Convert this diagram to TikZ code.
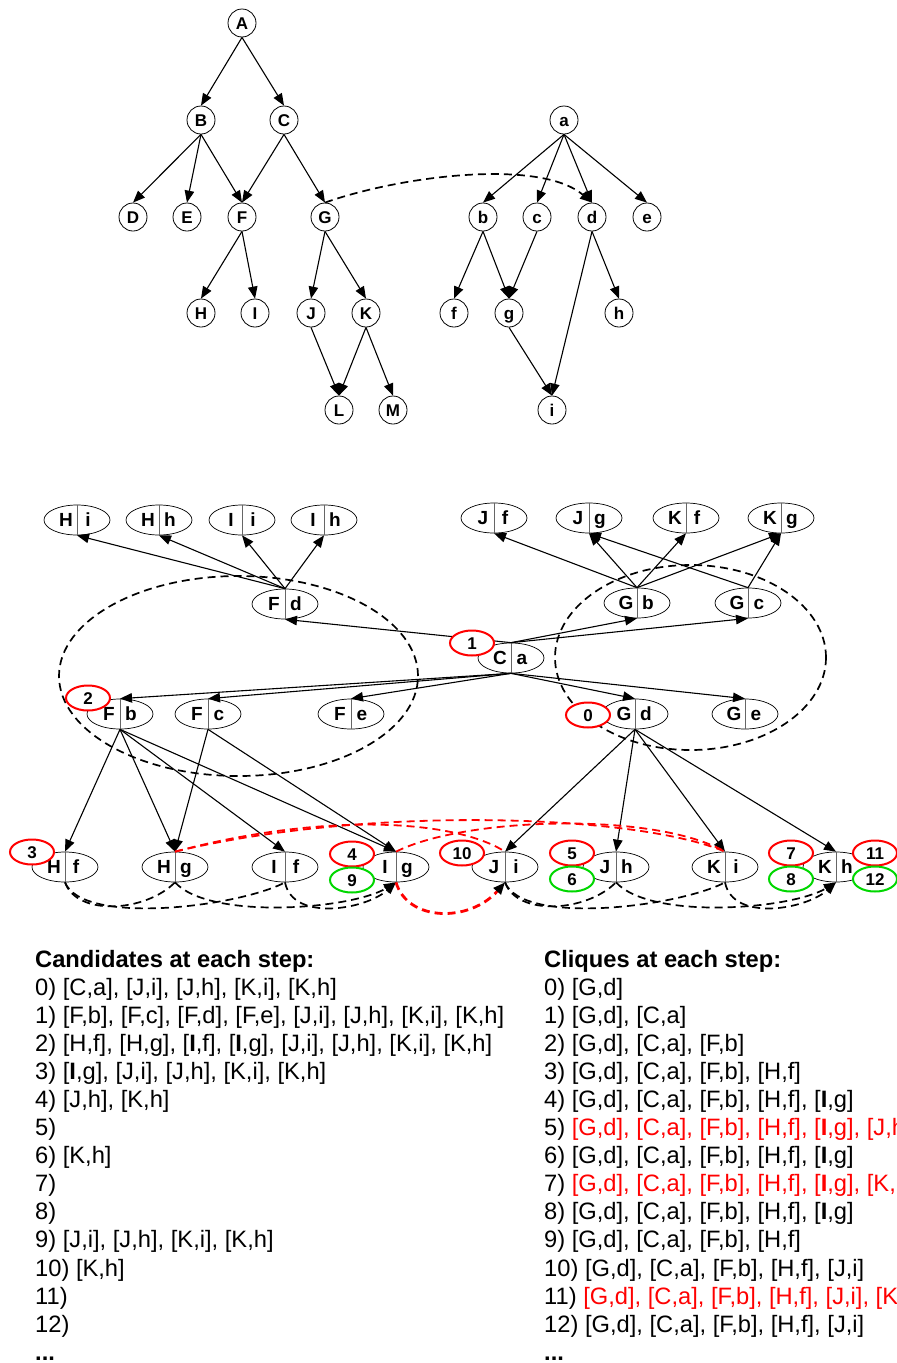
\documentclass[tikz,border=0pt]{standalone}
\usepackage{fontspec}
\setmainfont{Liberation Sans}
\usetikzlibrary{arrows.meta,shapes.geometric,calc}

% a candidate pair: split ellipse with one letter on each side
\newcommand\pairnode[5]{%
  \node[pairell] (#1) at (#2,#3) {};
  \draw[divider] (#1.north) -- (#1.south);
  \node[pairtxt] (#1-l) at ($(#1.center)+(-11,0)$) {#4};
  \node[pairtxt] (#1-r) at ($(#1.center)+(11,0)$) {#5};
}
\newcommand\bI{\textbf{I}}

\begin{document}
\begin{tikzpicture}[x=1pt,y=-1pt,
  tip/.style={-{Triangle[length=12pt,width=9.5pt]}},
  vtx/.style={circle,draw,line width=0.8pt,minimum size=28pt,inner sep=0pt,
    font=\fontsize{17}{17}\selectfont\bfseries,text height=12pt,text depth=0pt},
  link/.style={line width=1.1pt,tip},
  pairell/.style={ellipse,draw,line width=0.7pt,fill=white,minimum width=66pt,
    minimum height=30pt,inner sep=0pt},
  pairtxt/.style={font=\fontsize{19}{19}\selectfont\bfseries,inner sep=0pt,
    text height=13.5pt,text depth=0pt},
  divider/.style={line width=0.7pt,draw=black!60},
  stepred/.style={ellipse,draw=red,line width=2pt,fill=white,minimum width=44pt,
    minimum height=25pt,inner sep=0pt,font=\fontsize{17}{17}\selectfont\bfseries,
    text height=12pt,text depth=0pt},
  stepgreen/.style={stepred,draw={rgb,255:red,0;green,215;blue,0}},
  groupline/.style={line width=1.7pt,dash pattern=on 8pt off 5pt},
  conflict/.style={draw=red,line width=1.8pt,dash pattern=on 8pt off 5pt},
  txt/.style={anchor=base west,inner sep=0pt,font=\fontsize{23.7}{23.7}\selectfont}
]
\clip (0,0) rectangle (897,1363);
\useasboundingbox (0,0) rectangle (897,1363);

% ---------------- the two trees ----------------
\foreach \n/\x/\y in {A/242/23, B/201/120, C/284/120, D/133/217, E/187/217,
  F/242/217, G/325/217, H/201/313, I/255/313, J/311/313, K/366/313,
  L/339/410, M/393/410, a/564/120, b/483/217, c/537/217, d/592/217,
  e/647/217, f/454/313, g/509/313, h/619/313, i/552/410}
  \node[vtx] (\n) at (\x,\y) {\n};

\foreach \s/\t in {A/B, A/C, B/D, B/E, B/F, C/F, C/G, F/H, F/I, G/J, G/K,
  J/L, K/L, K/M, a/b, a/c, a/d, a/e, b/f, b/g, c/g, d/h, d/i, g/i}
  \draw[link] (\s.south) -- (\t.north);

\draw[groupline,tip] (G.north) .. controls (400,176) and (540,158) .. (d.north);

% ---------------- pair graph ----------------
\draw[groupline] (238.5,676) ellipse [x radius=179.5pt, y radius=100pt];
\draw[groupline] (690.5,657.5) ellipse [x radius=135.5pt, y radius=92.5pt];

\pairnode{Hi}{77}{520}{H}{i}
\pairnode{Hh}{159}{520}{H}{h}
\pairnode{Ii}{242}{520}{I}{i}
\pairnode{Ih}{324}{520}{I}{h}
\pairnode{Jf}{494}{518}{J}{f}
\pairnode{Jg}{589}{518}{J}{g}
\pairnode{Kf}{686}{518}{K}{f}
\pairnode{Kg}{781}{518}{K}{g}
\pairnode{Fd}{285}{604}{F}{d}
\pairnode{Gb}{637}{603}{G}{b}
\pairnode{Gc}{748}{603}{G}{c}
\pairnode{Ca}{511}{658}{C}{a}
\pairnode{Fb}{120}{714}{F}{b}
\pairnode{Fc}{208}{714}{F}{c}
\pairnode{Fe}{351}{714}{F}{e}
\pairnode{Gd}{635}{714}{G}{d}
\pairnode{Ge}{745}{714}{G}{e}
\pairnode{Hf}{65}{867}{H}{f}
\pairnode{Hg}{175}{867}{H}{g}
\pairnode{If}{285}{867}{I}{f}
\pairnode{Ig}{396}{867}{I}{g}
\pairnode{Ji}{505}{867}{J}{i}
\pairnode{Jh}{616}{867}{J}{h}
\pairnode{Ki}{725}{867}{K}{i}
\pairnode{Kh}{836}{867}{K}{h}

% upward links
\foreach \s/\t in {Fd/Hi, Fd/Hh, Fd/Ii, Fd/Ih, Gb/Jf, Gb/Jg, Gb/Kf, Gb/Kg,
  Gc/Jg, Gc/Kg, Ca/Fd, Ca/Gb, Ca/Gc}
  \draw[link] (\s.north) -- (\t.south);
% downward links
\foreach \s/\t in {Ca/Fb, Ca/Fc, Ca/Fe, Ca/Gd, Ca/Ge, Fb/Hf, Fb/Hg, Fb/If,
  Fb/Ig, Fc/Hg, Fc/Ig, Gd/Ji, Gd/Jh, Gd/Ki, Gd/Kh}
  \draw[link] (\s.south) -- (\t.north);

% dashed links below the last row
\draw[groupline] (Hf.south) .. controls +(12,34) and +(-30,30) .. (Hg.south);
\draw[groupline] (Hf.south) .. controls +(18,44) and +(-45,24) .. (If.south);
\draw[groupline,tip] (Hg.south) .. controls +(35,38) and +(-45,27) .. (Ig.south);
\draw[groupline,tip] (If.south) .. controls +(8,40) and +(-30,27) .. (Ig.south);
\draw[groupline] (Ji.south) .. controls +(12,34) and +(-30,30) .. (Jh.south);
\draw[groupline] (Ji.south) .. controls +(18,44) and +(-45,24) .. (Ki.south);
\draw[groupline,tip] (Jh.south) .. controls +(35,38) and +(-45,27) .. (Kh.south);
\draw[groupline,tip] (Ki.south) .. controls +(8,40) and +(-30,27) .. (Kh.south);

% conflicting pairs
\draw[conflict] (Hg.north) .. controls +(150,-40) and +(-50,-32) .. (Ji.north);
\draw[conflict] (Hg.north) .. controls +(190,-46) and +(-90,-38) .. (Ki.north);
\draw[conflict] (Ig.north) .. controls +(70,-35) and +(-70,-40) .. (Ki.north);
\draw[conflict,line width=2.8pt,-{Triangle[length=12pt,width=9.5pt,color=black]}]
  (Ig.south) .. controls +(12,40) and +(-35,40) .. (Ji.south);

% step numbers
\node[stepred] (s0) at (588,715) {0};
\node[stepred] (s1) at (472,643) {1};
\node[stepred] (s2) at (88,698) {2};
\node[stepred] (s3) at (32,852) {3};
\node[stepred] (s4) at (352,854) {4};
\node[stepgreen] (s9) at (352,880) {9};
\node[stepred] (s10) at (462,853) {10};
\node[stepred] (s5) at (572,853) {5};
\node[stepgreen] (s6) at (572,879) {6};
\node[stepred] (s7) at (791,853) {7};
\node[stepgreen] (s8) at (791,879) {8};
\node[stepred] (s11) at (875,853) {11};
\node[stepgreen] (s12) at (875,879) {12};

% ---------------- step tables ----------------
\node[txt] (lt) at (35,967) {\textbf{Candidates at each step:}};
\node[txt] (l0) at (35,995) {0) [C,a], [J,i], [J,h], [K,i], [K,h]};
\node[txt] (l1) at (35,1023.1) {1) [F,b], [F,c], [F,d], [F,e], [J,i], [J,h], [K,i], [K,h]};
\node[txt] (l2) at (35,1051.2) {2) [H,f], [H,g], [\bI,f], [\bI,g], [J,i], [J,h], [K,i], [K,h]};
\node[txt] (l3) at (35,1079.3) {3) [\bI,g], [J,i], [J,h], [K,i], [K,h]};
\node[txt] (l4) at (35,1107.4) {4) [J,h], [K,h]};
\node[txt] (l5) at (35,1135.5) {5)};
\node[txt] (l6) at (35,1163.6) {6) [K,h]};
\node[txt] (l7) at (35,1191.7) {7)};
\node[txt] (l8) at (35,1219.8) {8)};
\node[txt] (l9) at (35,1247.9) {9) [J,i], [J,h], [K,i], [K,h]};
\node[txt] (l10) at (35,1276) {10) [K,h]};
\node[txt] (l11) at (35,1304.1) {11)};
\node[txt] (l12) at (35,1332.2) {12)};
\node[txt] (l13) at (35,1360.3) {\textbf{...}};

\node[txt] (rt) at (544,967) {\textbf{Cliques at each step:}};
\node[txt] (r0) at (544,995) {0) [G,d]};
\node[txt] (r1) at (544,1023.1) {1) [G,d], [C,a]};
\node[txt] (r2) at (544,1051.2) {2) [G,d], [C,a], [F,b]};
\node[txt] (r3) at (544,1079.3) {3) [G,d], [C,a], [F,b], [H,f]};
\node[txt] (r4) at (544,1107.4) {4) [G,d], [C,a], [F,b], [H,f], [\bI,g]};
\node[txt] (r5) at (544,1135.5) {5) \textcolor{red}{[G,d], [C,a], [F,b], [H,f], [\bI,g], [J,h]}};
\node[txt] (r6) at (544,1163.6) {6) [G,d], [C,a], [F,b], [H,f], [\bI,g]};
\node[txt] (r7) at (544,1191.7) {7) \textcolor{red}{[G,d], [C,a], [F,b], [H,f], [\bI,g], [K,h]}};
\node[txt] (r8) at (544,1219.8) {8) [G,d], [C,a], [F,b], [H,f], [\bI,g]};
\node[txt] (r9) at (544,1247.9) {9) [G,d], [C,a], [F,b], [H,f]};
\node[txt] (r10) at (544,1276) {10) [G,d], [C,a], [F,b], [H,f], [J,i]};
\node[txt] (r11) at (544,1304.1) {11) \textcolor{red}{[G,d], [C,a], [F,b], [H,f], [J,i], [K,h]}};
\node[txt] (r12) at (544,1332.2) {12) [G,d], [C,a], [F,b], [H,f], [J,i]};
\node[txt] (r13) at (544,1360.3) {\textbf{...}};
\end{tikzpicture}
\end{document}
